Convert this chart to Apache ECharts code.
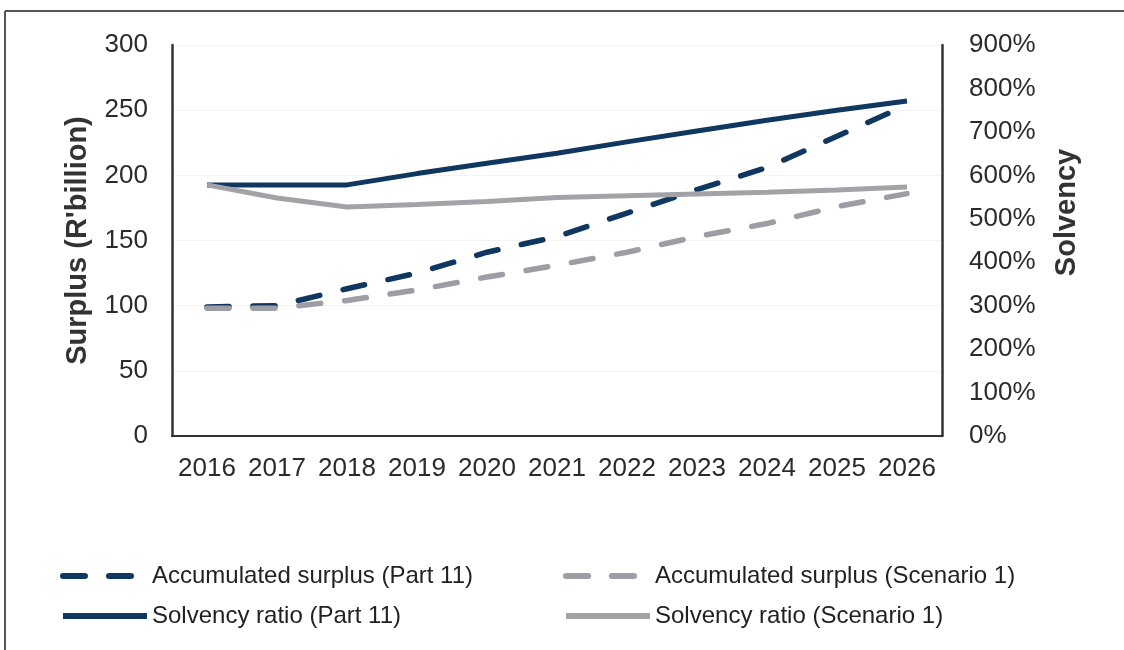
<!DOCTYPE html>
<html>
<head>
<meta charset="utf-8">
<script src="https://cdn.jsdelivr.net/npm/echarts@6/dist/echarts.min.js"></script>
<style>
  html, body { margin: 0; padding: 0; background: #fff; }
  #chart { width: 1124px; height: 650px; }
</style>
</head>
<body>
<div id="chart"></div>
<script>
// years on the category axis
const years = ['2016', '2017', '2018', '2019', '2020', '2021', '2022', '2023', '2024', '2025', '2026'];
// accumulated surplus, R'billion (left axis)
const surplusPart11 = [99, 100, 113, 125, 141, 153, 171, 189, 206, 230, 254];
const surplusScenario1 = [98, 98, 104, 112, 122, 131, 141, 153, 163, 176, 186];
// solvency ratio, % (right axis)
const solvencyPart11 = [578, 578, 578, 604, 628, 651, 677, 702, 727, 750, 771];
const solvencyScenario1 = [578, 548, 527, 533, 540, 549, 553, 557, 561, 566, 573];

const names = [
  'Accumulated surplus (Part 11)',
  'Accumulated surplus (Scenario 1)',
  'Solvency ratio (Part 11)',
  'Solvency ratio (Scenario 1)'
];

const navy = '#10375f';
const grey = '#9d9da6';
const greySolid = '#a3a3a7';
const font = 'Liberation Sans';

const chart = echarts.init(document.getElementById('chart'));

// shared legend look (no circle marker, thick line icon)
const legendBase = {
  orient: 'vertical',
  top: 562,
  padding: 0,
  itemWidth: 84,
  itemHeight: 14,
  itemGap: 12,
  itemStyle: { opacity: 0 },
  lineStyle: { width: 6 },
  textStyle: { fontSize: 24, color: '#222', fontFamily: font, lineHeight: 28 }
};

const option = {
  backgroundColor: '#fff',
  textStyle: { fontFamily: font },
  grid: { left: 172, right: 182, top: 45, bottom: 214 },
  // two legend columns, each with one surplus and one solvency entry
  legend: [
    Object.assign({}, legendBase, { left: 60, data: [names[0], names[2]] }),
    Object.assign({}, legendBase, { left: 563, data: [names[1], names[3]] })
  ],
  xAxis: [
    {
      type: 'category',
      data: years,
      boundaryGap: true,
      axisLine: { show: false },
      axisTick: { show: false },
      axisLabel: { fontSize: 26, color: '#2b2b2b', margin: 20, interval: 0 }
    },
    {
      // only the top border line of the plot
      type: 'category',
      data: years,
      position: 'top',
      axisLine: { show: true, lineStyle: { color: '#333', width: 2 } },
      axisTick: { show: false },
      axisLabel: { show: false }
    }
  ],
  yAxis: [
    {
      type: 'value',
      min: 0,
      max: 300,
      interval: 50,
      name: "Surplus (R'billion)",
      nameLocation: 'middle',
      nameGap: 80,
      nameTextStyle: { fontSize: 29, fontWeight: 'bold', color: '#333' },
      axisLine: { show: true, lineStyle: { color: '#333', width: 2.5 } },
      axisTick: { show: false },
      axisLabel: { fontSize: 26, color: '#2b2b2b', margin: 24 },
      splitLine: { show: true, lineStyle: { color: '#f3f3f3', width: 1 } }
    },
    {
      type: 'value',
      min: 0,
      max: 900,
      interval: 100,
      name: 'Solvency',
      nameLocation: 'middle',
      nameGap: 110,
      nameTextStyle: { fontSize: 29, fontWeight: 'bold', color: '#333', padding: [0, 0, 0, 56] },
      axisLine: { show: true, lineStyle: { color: '#333', width: 2.5 } },
      axisTick: { show: false },
      axisLabel: { fontSize: 26, color: '#2b2b2b', margin: 27, formatter: '{value}%' },
      splitLine: { show: false }
    }
  ],
  series: [
    {
      name: names[0],
      type: 'line',
      yAxisIndex: 0,
      symbol: 'none',
      data: surplusPart11,
      itemStyle: { color: navy },
      lineStyle: { color: navy, width: 5.5, type: [22, 24], cap: 'round' }
    },
    {
      name: names[1],
      type: 'line',
      yAxisIndex: 0,
      symbol: 'none',
      data: surplusScenario1,
      itemStyle: { color: grey },
      lineStyle: { color: grey, width: 5.5, type: [22, 24], cap: 'round' }
    },
    {
      name: names[2],
      type: 'line',
      yAxisIndex: 1,
      symbol: 'none',
      data: solvencyPart11,
      itemStyle: { color: navy },
      lineStyle: { color: navy, width: 5 }
    },
    {
      name: names[3],
      type: 'line',
      yAxisIndex: 1,
      symbol: 'none',
      data: solvencyScenario1,
      itemStyle: { color: greySolid },
      lineStyle: { color: greySolid, width: 5 }
    }
  ],
  // outer frame of the scanned figure
  graphic: [
    { type: 'line', shape: { x1: 5, y1: 11, x2: 1124, y2: 11 }, style: { stroke: '#555', lineWidth: 2 } },
    { type: 'line', shape: { x1: 5, y1: 11, x2: 5, y2: 650 }, style: { stroke: '#555', lineWidth: 2 } }
  ]
};

chart.setOption(option);
</script>
</body>
</html>
